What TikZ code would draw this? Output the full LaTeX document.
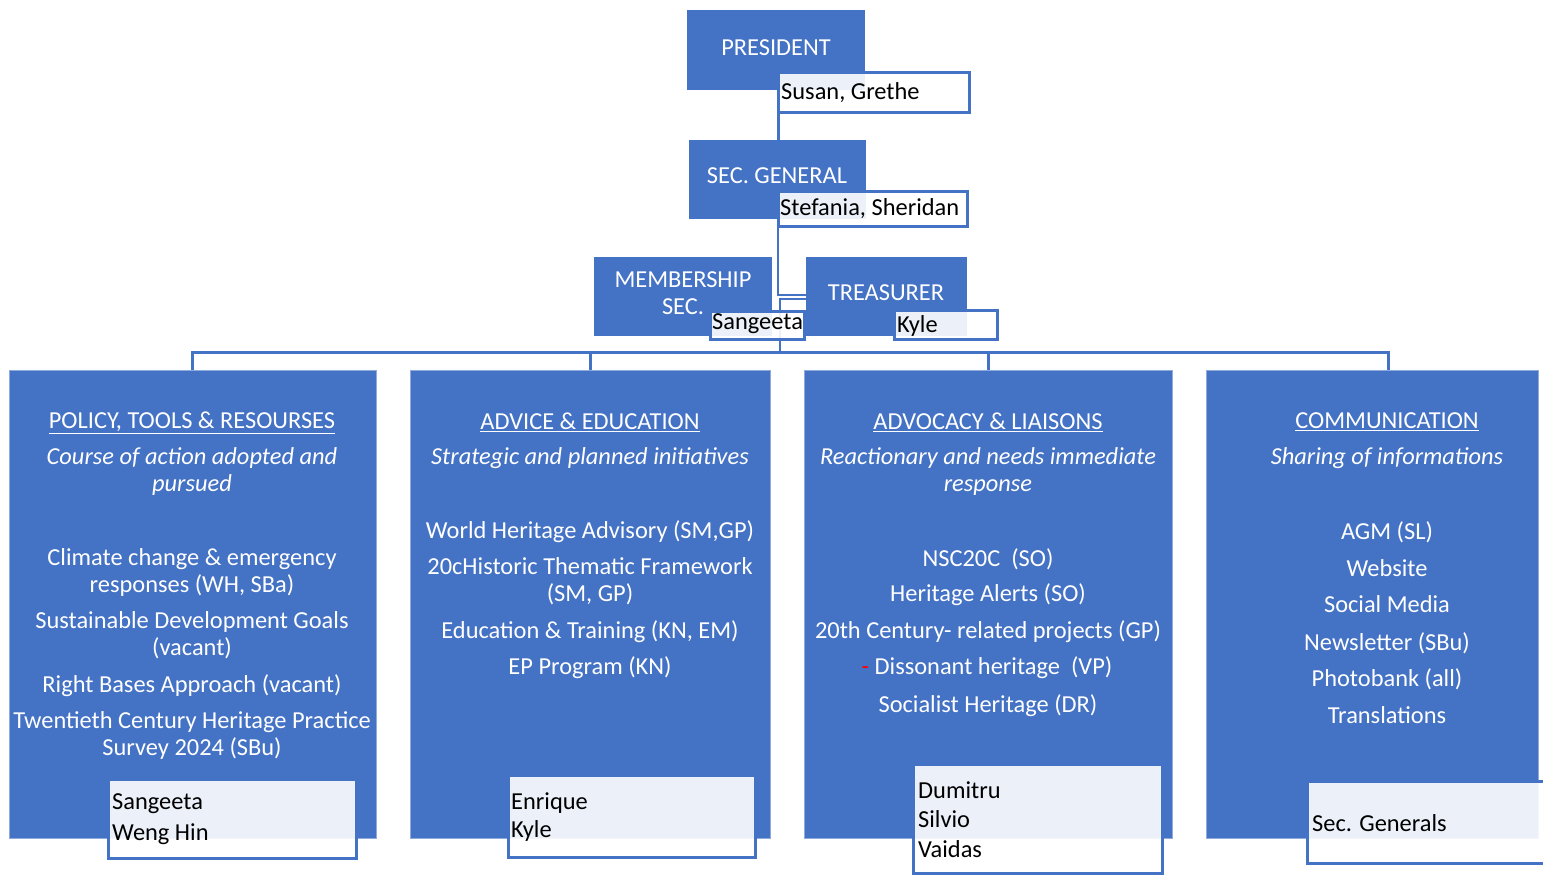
\documentclass[tikz,border=0pt]{standalone}
\usepackage{fontspec}
\setmainfont{Carlito}
\definecolor{bl}{HTML}{4472C4}
\newcommand\myfs{\fontsize{24.4}{27}\selectfont}
\begin{document}
\begin{tikzpicture}[x=1pt,y=-1pt,
  role/.style={fill=bl, draw=none, inner sep=0pt, anchor=north west},
  col/.style={fill=bl, draw=bl!60!white, line width=0.8pt, inner sep=0pt, anchor=north west},
  namebox/.style={draw=bl, line width=2.6pt, fill=white, fill opacity=0.9, text opacity=1, inner sep=0pt, anchor=north west},
  wt/.style={text=white, font=\myfs, align=center, inner sep=0pt},
  nt/.style={text=black, font=\myfs, align=left, anchor=west, inner sep=0pt},
  conn/.style={draw=bl, line width=3pt}]
\useasboundingbox (0,0) rectangle (1543,877);

% ---------- boxes ----------
\node[role, minimum width=178pt, minimum height=80pt] (pres) at (687,10) {};
\node[role, minimum width=177pt, minimum height=79pt] (sg) at (689,140) {};
\node[role, minimum width=178pt, minimum height=79pt] (mem) at (594,257) {};
\node[role, minimum width=161pt, minimum height=79pt] (tr) at (806,257) {};

\node[col, minimum width=367pt, minimum height=468pt] (c1) at (9,370) {};
\node[col, minimum width=360pt, minimum height=468pt] (c2) at (410,370) {};
\node[col, minimum width=368pt, minimum height=468pt] (c3) at (804,370) {};
\node[col, minimum width=332pt, minimum height=468pt] (c4) at (1206,370) {};
\coordinate (c4top) at (1388,370);

% ---------- connectors ----------
\coordinate (j) at (778,353);
\draw[conn] (pres.south -| j) -- (sg.north -| j);
\draw[conn, line width=2pt] (sg.south -| j) -- (778,295) -- (tr.west |- 0,295);
\draw[conn, line width=2pt] (tr.west |- 0,299) -- (780,299) -- (780,353);
\draw[conn] (c1.north) -- (c1.north |- j) -- (c4top |- j) -- (c4top);
\draw[conn] (c2.north) -- (c2.north |- j);
\draw[conn] (c3.north) -- (c3.north |- j);

% ---------- role texts ----------
\node[wt] (presT) at (776,48) {PRESIDENT};
\node[wt] (sgT) at (777,176) {SEC. GENERAL};
\node[wt] (memT) at (683,293) {MEMBERSHIP\\SEC.};
\node[wt] (trT) at (886,293) {TREASURER};

% ---------- name boxes (top) ----------
\node[namebox, minimum width=191pt, minimum height=40pt] (presN) at (777,71) {};
\node[nt] at (781,93) {Susan, Grethe};
\node[namebox, minimum width=189pt, minimum height=35pt] (sgN) at (777,190) {};
\node[nt] at (780,209) {Stefania, Sheridan};
\node[namebox, minimum width=94pt, minimum height=28pt] (memN) at (709,310) {};
\node[nt] at (712,324) {Sangeeta};
\node[namebox, minimum width=103pt, minimum height=29pt] (trN) at (893,309) {};
\node[nt] at (897,326) {Kyle};

% ---------- column 1 ----------
\node[wt] (t1) at (192,423) {\underline{POLICY, TOOLS \& RESOURSES}};
\node[wt, font=\myfs\itshape] at (192,471) {Course of action adopted and\\pursued};
\node[wt] at (192,572) {Climate change \& emergency\\responses (WH, SBa)};
\node[wt] at (192,635) {Sustainable Development Goals\\(vacant)};
\node[wt] at (192,686) {Right Bases Approach (vacant)};
\node[wt] at (192,735) {Twentieth Century Heritage Practice\\Survey 2024 (SBu)};

% ---------- column 2 ----------
\node[wt] (t2) at (590,422) {\underline{ADVICE \& EDUCATION}};
\node[wt, font=\myfs\itshape] at (590,458) {Strategic and planned initiatives};
\node[wt] at (590,532) {World Heritage Advisory (SM,GP)};
\node[wt] at (590,581) {20cHistoric Thematic Framework\\(SM, GP)};
\node[wt] at (590,632) {Education \& Training (KN, EM)};
\node[wt] at (590,668) {EP Program (KN)};

% ---------- column 3 ----------
\node[wt] (t3) at (988,422) {\underline{ADVOCACY \& LIAISONS}};
\node[wt, font=\myfs\itshape] at (988,471) {Reactionary and needs immediate\\response};
\node[wt] at (988,559) {NSC20C\ \ (SO)};
\node[wt] at (988,595) {Heritage Alerts (SO)};
\node[wt] at (988,632) {20th Century- related projects (GP)};
\node[wt] at (987,668) {{\color{red}-} Dissonant heritage\ \ (VP)};
\node[wt] at (988,706) {Socialist Heritage (DR)};

% ---------- column 4 ----------
\node[wt] (t4) at (1387,422) {\underline{COMMUNICATION}};
\node[wt, font=\myfs\itshape] at (1387,458) {Sharing of informations};
\node[wt] at (1387,532) {AGM (SL)};
\node[wt] at (1387,568) {Website};
\node[wt] at (1387,604) {Social Media};
\node[wt] at (1387,643) {Newsletter (SBu)};
\node[wt] at (1387,679) {Photobank (all)};
\node[wt] at (1387,715) {Translations};

% ---------- name boxes (bottom) ----------
\node[namebox, minimum width=248pt, minimum height=79pt] (n1) at (107,778) {};
\node[nt] at (112,804) {Sangeeta};
\node[nt] at (112,834) {Weng Hin};
\node[namebox, minimum width=247pt, minimum height=82pt] (n2) at (507,774) {};
\node[nt] at (511,803) {Enrique};
\node[nt] at (511,831) {Kyle};
\node[namebox, minimum width=249pt, minimum height=109pt] (n3) at (912,763) {};
\node[nt] at (918,790) {Dumitru};
\node[nt] at (918,819) {Silvio};
\node[nt] at (918,849) {Vaidas};
\node[namebox, minimum width=260pt, minimum height=82pt] (n4) at (1306,780) {};
\node[nt] at (1312,823) {Sec. Generals};
\end{tikzpicture}
\end{document}
